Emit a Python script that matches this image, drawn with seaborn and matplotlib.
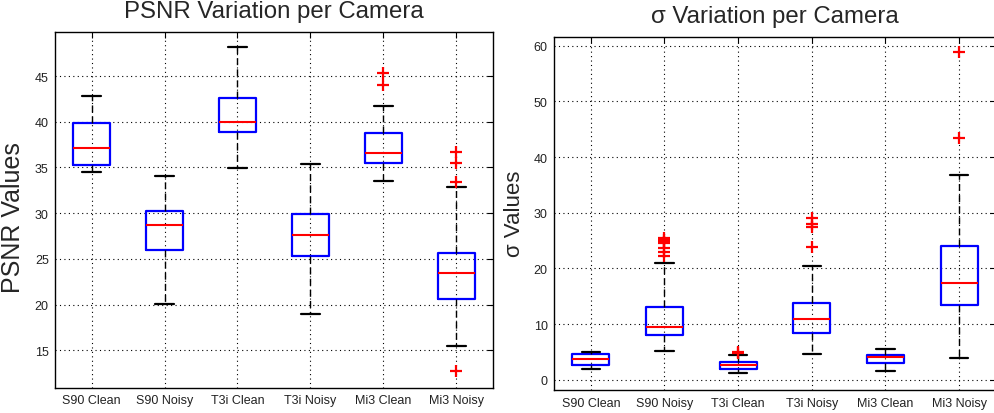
import matplotlib
matplotlib.use("Agg")
import matplotlib.pyplot as plt
import pandas as pd
import seaborn as sns

cameras = ["S90 Clean", "S90 Noisy", "T3i Clean", "T3i Noisy", "Mi3 Clean", "Mi3 Noisy"]

# PSNR box statistics per camera
psnr_whisker_lo = [34.53, 20.06, 34.97, 18.94, 33.52, 15.44]
psnr_q1 = [35.27, 25.94, 38.88, 25.35, 35.45, 20.60]
psnr_median = [37.16, 28.70, 39.97, 27.64, 36.58, 23.42]
psnr_q3 = [39.83, 30.27, 42.63, 29.94, 38.73, 25.70]
psnr_whisker_hi = [42.78, 34.06, 48.14, 35.38, 41.72, 32.89]
psnr_outliers = [[], [], [], [], [45.30, 44.02], [36.72, 35.52, 33.45, 12.73]]

# sigma box statistics per camera
sigma_whisker_lo = [1.92, 5.16, 1.26, 4.60, 1.56, 3.90]
sigma_q1 = [2.69, 7.95, 2.00, 8.33, 3.06, 13.40]
sigma_median = [3.66, 9.50, 2.70, 10.90, 4.08, 17.40]
sigma_q3 = [4.67, 13.15, 3.10, 13.84, 4.50, 24.00]
sigma_whisker_hi = [4.98, 20.90, 4.45, 20.50, 5.57, 36.77]
sigma_outliers = [[], [25.4, 25.1, 24.8, 24.5, 23.7, 22.9, 22.2], [4.85, 4.90],
                  [29.0, 27.9, 27.4, 23.8], [], [58.8, 43.5]]


def sample_from_stats(lo, q1, med, q3, hi, outliers):
    """Build a sample whose linear-interpolated quartiles equal the given stats."""
    low = sorted(v for v in outliers if v < q1) + [lo]
    high = [hi] + sorted(v for v in outliers if v > q3)
    m = max(len(low), len(high))
    return (low + [q1] * (m - len(low)) + [q1] * m + [med]
            + [q3] * m + [q3] * (m - len(high)) + high)


def build_table(lo, q1, med, q3, hi, outs):
    rows = []
    for i, cam in enumerate(cameras):
        for v in sample_from_stats(lo[i], q1[i], med[i], q3[i], hi[i], outs[i]):
            rows.append({"camera": cam, "value": v})
    return pd.DataFrame(rows)


psnr_df = build_table(psnr_whisker_lo, psnr_q1, psnr_median, psnr_q3, psnr_whisker_hi, psnr_outliers)
sigma_df = build_table(sigma_whisker_lo, sigma_q1, sigma_median, sigma_q3, sigma_whisker_hi, sigma_outliers)

sns.set_style("white")
plt.rcParams["font.family"] = ["Liberation Sans", "DejaVu Sans"]

fig = plt.figure(figsize=(9.95, 4.14), dpi=100)
ax1 = fig.add_axes([55 / 995, (414 - 389) / 414, (493 - 55) / 995, (389 - 32.7) / 414])
ax2 = fig.add_axes([554 / 995, (414 - 391.3) / 414, (996 - 554) / 995, (391.3 - 38.3) / 414])

box_kws = dict(
    order=cameras, width=0.5, fill=False, whis=1.5, linewidth=1.5,
    boxprops=dict(color="blue", linewidth=1.6),
    medianprops=dict(color="red", linewidth=1.5),
    whiskerprops=dict(color="black", linestyle=(0, (5, 3)), linewidth=1.0),
    capprops=dict(color="black", linewidth=1.6),
    flierprops=dict(marker="+", markeredgecolor="red", markerfacecolor="red",
                    markersize=8, markeredgewidth=1.6),
)

sns.boxplot(data=psnr_df, x="camera", y="value", ax=ax1, **box_kws)
sns.boxplot(data=sigma_df, x="camera", y="value", ax=ax2, **box_kws)

for ax in (ax1, ax2):
    ax.set_xlim(-0.5, 5.5)
    ax.set_xlabel("")
    ax.grid(True, linestyle=(0, (1, 3)), color="black", linewidth=0.8)
    ax.set_axisbelow(True)
    ax.tick_params(direction="in", top=True, right=True, length=4, width=0.8,
                   labelsize=9, pad=4.5, colors="black", labelcolor="#222222")
    for s in ax.spines.values():
        s.set_visible(True)
        s.set_color("black")
        s.set_linewidth(1.0)

ax1.set_ylim(10.88, 49.85)
ax1.set_yticks([15, 20, 25, 30, 35, 40, 45])
ax1.set_title("PSNR Variation per Camera", fontsize=17.3, pad=10.4)
ax1.set_ylabel("PSNR Values", fontsize=18)
ax1.yaxis.set_label_coords(-0.068, 0.48)

ax2.set_ylim(-1.9, 61.5)
ax2.set_yticks([0, 10, 20, 30, 40, 50, 60])
ax2.set_title("σ Variation per Camera", fontsize=17.3, pad=10.8)
ax2.set_ylabel("σ Values", fontsize=16)
ax2.yaxis.set_label_coords(-0.066, 0.502)

fig.savefig("out.png", dpi=100)
